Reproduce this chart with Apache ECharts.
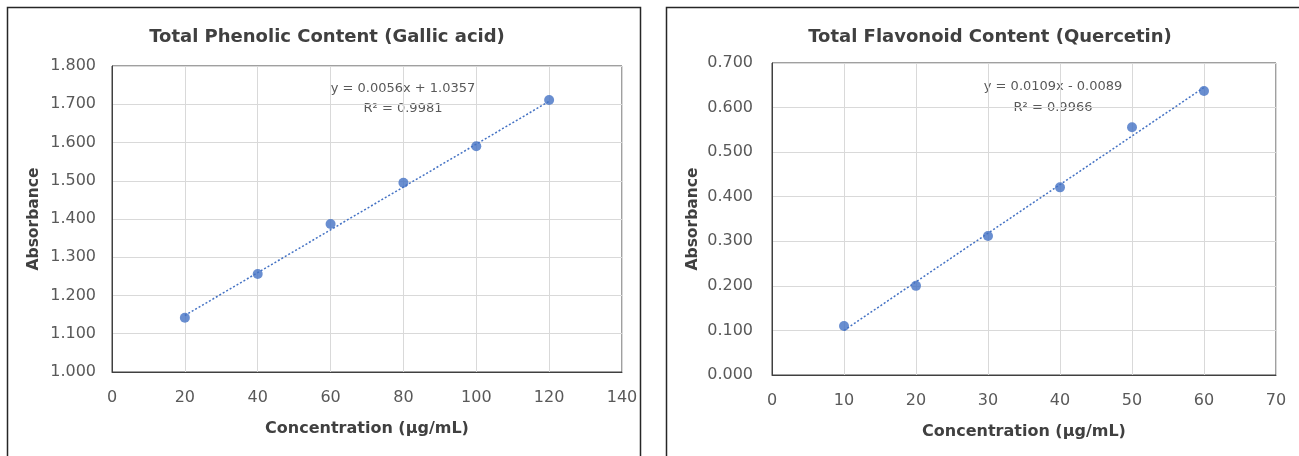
<!DOCTYPE html>
<html><head><meta charset="utf-8">
<script src="https://cdn.jsdelivr.net/npm/echarts@6/dist/echarts.min.js"></script>
<style>html,body{margin:0;padding:0;background:#fff}#c{width:1299px;height:456px}</style>
</head><body><div id="c"></div>
<script>
// Left chart: Total Phenolic Content (Gallic acid)
const phenolicConc = [20, 40, 60, 80, 100, 120];
const phenolicAbs = [1.142, 1.256, 1.387, 1.495, 1.590, 1.711];
const phenolicTrendX = [20, 120];
const phenolicTrendY = [1.1477, 1.7077];
const phenolicEq = 'y = 0.0056x + 1.0357';
const phenolicR2 = 'R² = 0.9981';

// Right chart: Total Flavonoid Content (Quercetin)
const flavConc = [10, 20, 30, 40, 50, 60];
const flavAbs = [0.110, 0.200, 0.312, 0.421, 0.556, 0.637];
const flavTrendX = [10, 60];
const flavTrendY = [0.1001, 0.6451];
const flavEq = 'y = 0.0109x - 0.0089';
const flavR2 = 'R² = 0.9966';

const titles = ['Total Phenolic Content (Gallic acid)', 'Total Flavonoid Content (Quercetin)'];
const xTitle = 'Concentration (µg/mL)';
const yTitle = 'Absorbance';

const FONT = '"DejaVu Sans", sans-serif';
const BLUE = '#4472C4';
const zip = (a, b) => a.map((v, i) => [v, b[i]]);

const chart = echarts.init(document.getElementById('c'), null, {renderer: 'canvas'});

function xAxis(gi, max, interval) {
  return {
    type: 'value', gridIndex: gi, min: 0, max: max, interval: interval,
    name: xTitle, nameLocation: 'middle', nameGap: 49,
    nameTextStyle: {fontFamily: FONT, fontSize: 16, fontWeight: 'bold', color: '#404040'},
    axisLine: {show: true, lineStyle: {color: '#404040', width: 1}},
    axisTick: {show: false},
    axisLabel: {fontFamily: FONT, fontSize: 16, color: '#595959', margin: 18},
    splitLine: {show: true, lineStyle: {color: '#d9d9d9', width: 1}}
  };
}
function yAxis(gi, min, max, gap, margin) {
  return {
    type: 'value', gridIndex: gi, min: min, max: max, interval: 0.1,
    name: yTitle, nameLocation: 'middle', nameGap: gap, nameRotate: 90,
    nameTextStyle: {fontFamily: FONT, fontSize: 15.5, fontWeight: 'bold', color: '#404040'},
    axisLine: {show: true, lineStyle: {color: '#404040', width: 1}},
    axisTick: {show: false},
    axisLabel: {fontFamily: FONT, fontSize: 16, color: '#595959', margin: margin,
      formatter: v => v.toFixed(3)},
    splitLine: {show: true, lineStyle: {color: '#d9d9d9', width: 1}}
  };
}

const option = {
  animation: false,
  backgroundColor: '#fff',
  title: [
    {text: titles[0], left: 322, top: 23, textAlign: 'center',
      textStyle: {fontFamily: FONT, fontSize: 18, fontWeight: 'bold', color: '#404040'}},
    {text: titles[1], left: 985, top: 23, textAlign: 'center',
      textStyle: {fontFamily: FONT, fontSize: 18, fontWeight: 'bold', color: '#404040'}}
  ],
  grid: [
    {left: 112, top: 66, width: 510, height: 306, show: true, borderColor: '#404040', borderWidth: 1, backgroundColor: 'transparent'},
    {left: 772, top: 63, width: 504, height: 312, show: true, borderColor: '#404040', borderWidth: 1, backgroundColor: 'transparent'}
  ],
  xAxis: [xAxis(0, 140, 20), xAxis(1, 70, 10)],
  yAxis: [yAxis(0, 1.0, 1.8, 70, 16), yAxis(1, 0, 0.7, 71, 19)],
  series: [
    {type: 'line', xAxisIndex: 0, yAxisIndex: 0, data: zip(phenolicTrendX, phenolicTrendY),
      showSymbol: false, symbol: 'none', lineStyle: {color: BLUE, width: 1.5, type: [2, 2]}, z: 2},
    {type: 'scatter', xAxisIndex: 0, yAxisIndex: 0, data: zip(phenolicConc, phenolicAbs),
      symbolSize: 10, itemStyle: {color: BLUE}, z: 3},
    {type: 'line', xAxisIndex: 1, yAxisIndex: 1, data: zip(flavTrendX, flavTrendY),
      showSymbol: false, symbol: 'none', lineStyle: {color: BLUE, width: 1.5, type: [2, 2]}, z: 2},
    {type: 'scatter', xAxisIndex: 1, yAxisIndex: 1, data: zip(flavConc, flavAbs),
      symbolSize: 10, itemStyle: {color: BLUE}, z: 3}
  ],
  graphic: [
    {type: 'rect', shape: {x: 7.5, y: 7.5, width: 633, height: 470}, style: {fill: 'none', stroke: '#262626', lineWidth: 1.5}, z: -1},
    {type: 'rect', shape: {x: 666.5, y: 7.5, width: 660, height: 470}, style: {fill: 'none', stroke: '#262626', lineWidth: 1.5}, z: -1},
    {type: 'text', x: 403, y: 99, style: {text: phenolicEq + '\n' + phenolicR2, align: 'center', verticalAlign: 'middle', lineHeight: 20, font: '13px ' + FONT, fill: '#595959'}},
    {type: 'text', x: 1053, y: 97.5, style: {text: flavEq + '\n' + flavR2, align: 'center', verticalAlign: 'middle', lineHeight: 21, font: '13px ' + FONT, fill: '#595959'}}
  ]
};
chart.setOption(option);
</script></body></html>
